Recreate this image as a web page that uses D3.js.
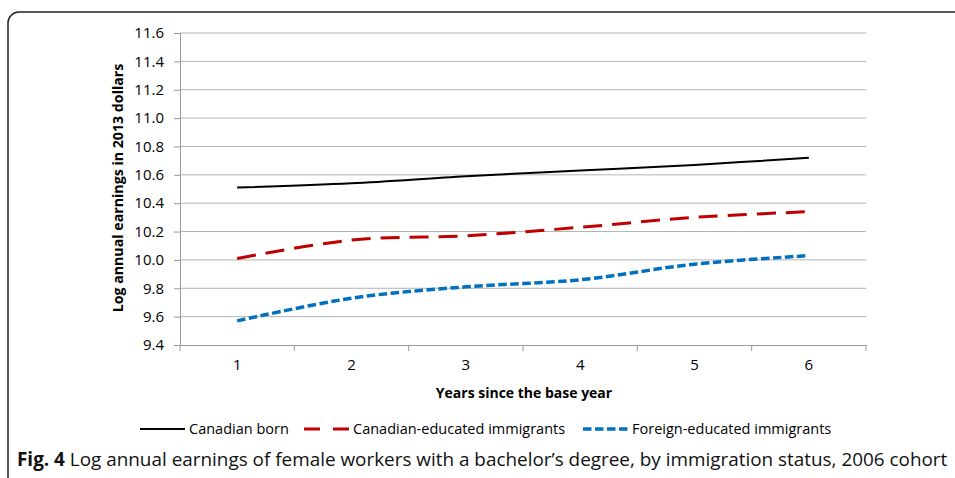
<!DOCTYPE html>
<html>
<head>
<meta charset="utf-8">
<script src="https://cdn.jsdelivr.net/npm/d3@7"></script>
<style>
  body { margin: 0; background: #fff; }
  svg { display: block; font-family: "Open Sans", sans-serif; }
</style>
</head>
<body>
<div id="chart"></div>
<script>
// data
const years = [1, 2, 3, 4, 5, 6];
const canadianBorn = [10.51, 10.54, 10.59, 10.63, 10.67, 10.72];
const canadianEducated = [10.01, 10.14, 10.17, 10.23, 10.30, 10.34];
const foreignEducated = [9.57, 9.73, 9.81, 9.86, 9.97, 10.03];
const yTicks = [9.4, 9.6, 9.8, 10.0, 10.2, 10.4, 10.6, 10.8, 11.0, 11.2, 11.4, 11.6];
const seriesNames = ["Canadian born", "Canadian-educated immigrants", "Foreign-educated immigrants"];

const W = 955, H = 478;
const plot = { left: 180, right: 866, top: 33, bottom: 345 };

const svg = d3.select("#chart").append("svg")
    .attr("width", W)
    .attr("height", H);

// rounded frame, clipped by the page on right/bottom
svg.append("rect")
    .attr("x", 8).attr("y", 12)
    .attr("width", 1200).attr("height", 1200)
    .attr("rx", 11)
    .attr("fill", "none")
    .attr("stroke", "#222")
    .attr("stroke-width", 1.5);

const x = d3.scaleBand()
    .domain(years)
    .range([plot.left, plot.right]);

const y = d3.scaleLinear()
    .domain([9.4, 11.6])
    .range([plot.bottom, plot.top]);

// gridlines
svg.append("g")
    .selectAll("line")
    .data(yTicks.slice(1))
    .join("line")
    .attr("x1", plot.left).attr("x2", plot.right)
    .attr("y1", d => y(d)).attr("y2", d => y(d))
    .attr("stroke", "#b3b3b3")
    .attr("stroke-width", 1);

// y axis
const yAxis = svg.append("g")
    .attr("transform", `translate(${plot.left},0)`)
    .call(d3.axisLeft(y).tickValues(yTicks).tickFormat(d3.format(".1f")).tickSize(6).tickPadding(10));
yAxis.select(".domain").attr("stroke", "#999");
yAxis.selectAll(".tick line").attr("stroke", "#999");
yAxis.selectAll("text").attr("font-size", 15).attr("fill", "#000").attr("font-family", "Open Sans");

// x axis
const xAxis = svg.append("g")
    .attr("transform", `translate(0,${plot.bottom})`)
    .call(d3.axisBottom(x).tickSize(0).tickPadding(14));
xAxis.select(".domain").attr("stroke", "#999");
xAxis.selectAll("text").attr("font-size", 15).attr("fill", "#000").attr("font-family", "Open Sans");

// boundary ticks between categories
const bounds = years.map(d => x(d)).concat([x(years[years.length - 1]) + x.bandwidth()]);
svg.append("g")
    .selectAll("line")
    .data(bounds)
    .join("line")
    .attr("x1", d => d).attr("x2", d => d)
    .attr("y1", plot.bottom).attr("y2", plot.bottom + 6)
    .attr("stroke", "#999");

// axis titles
svg.append("text")
    .attr("transform", `translate(123,${(plot.top + plot.bottom) / 2 - 1}) rotate(-90)`)
    .attr("text-anchor", "middle")
    .attr("font-size", 14.2)
    .attr("font-weight", "bold")
    .text("Log annual earnings in 2013 dollars");

svg.append("text")
    .attr("x", 524)
    .attr("y", 398)
    .attr("text-anchor", "middle")
    .attr("font-size", 14)
    .attr("font-weight", "bold")
    .text("Years since the base year");

// lines
const series = [
    { name: seriesNames[0], values: canadianBorn, color: "#000000", width: 2, dash: null },
    { name: seriesNames[1], values: canadianEducated, color: "#c00000", width: 3, dash: "19,10" },
    { name: seriesNames[2], values: foreignEducated, color: "#0070c0", width: 3.5, dash: "8.5,3.5" }
];

const line = d3.line()
    .x((d, i) => x(years[i]) + x.bandwidth() / 2)
    .y(d => y(d))
    .curve(d3.curveCatmullRom.alpha(0.5));

series.forEach(s => {
    svg.append("path")
        .datum(s.values)
        .attr("d", line)
        .attr("fill", "none")
        .attr("stroke", s.color)
        .attr("stroke-width", s.width)
        .attr("stroke-dasharray", s.dash);
});

// legend
const legendX = [140, 304, 583];
const legendY = 429;
series.forEach((s, i) => {
    svg.append("line")
        .attr("x1", legendX[i]).attr("x2", legendX[i] + 45)
        .attr("y1", legendY).attr("y2", legendY)
        .attr("stroke", s.color)
        .attr("stroke-width", s.width)
        .attr("stroke-dasharray", i === 1 ? "16,13" : s.dash);
    svg.append("text")
        .attr("x", legendX[i] + 49)
        .attr("y", legendY + 5)
        .attr("font-size", 14.5)
        .text(s.name);
});

// caption
const cap = svg.append("text")
    .attr("x", 17)
    .attr("y", 466)
    .attr("font-size", 18.9)
    .attr("fill", "#111");
cap.append("tspan").attr("font-weight", "bold").text("Fig. 4");
cap.append("tspan").text(" Log annual earnings of female workers with a bachelor\u2019s degree, by immigration status, 2006 cohort");
</script>
</body>
</html>
